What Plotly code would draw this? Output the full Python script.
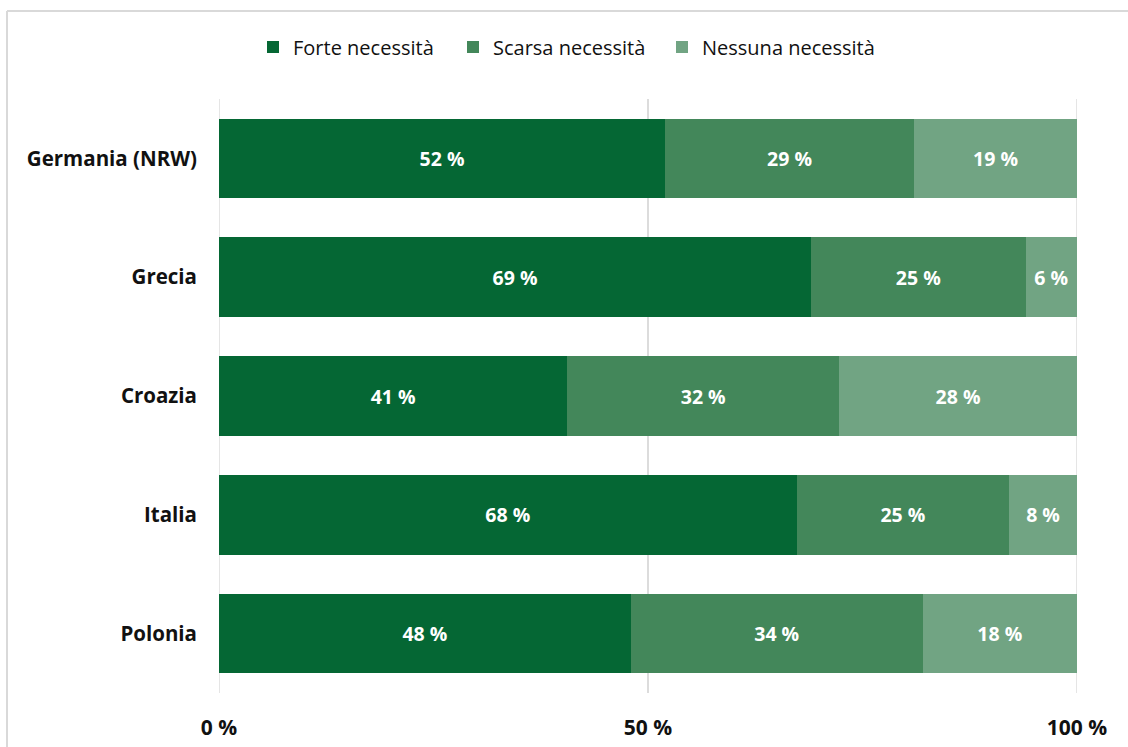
import plotly.graph_objects as go

# Survey shares per country (percent), stacked to 100 %
countries = ["Germania (NRW)", "Grecia", "Croazia", "Italia", "Polonia"]
forte = [52, 69, 41, 68, 48]
scarsa = [29, 25, 32, 25, 34]
nessuna = [19, 6, 28, 8, 18]

series_names = ["Forte necessità", "Scarsa necessità", "Nessuna necessità"]
series_values = [forte, scarsa, nessuna]
series_colors = ["#056734", "#43875A", "#71A483"]

x_ticks = [0, 50, 100]
x_tick_labels = ["0 %", "50 %", "100 %"]

FONT = "'Open Sans', 'Noto Sans', sans-serif"

W, H = 1128, 747
L, R, T, B = 219, 51, 99, 54
pw, ph = W - L - R, H - T - B

def px_x(p):
    return (p - L) / pw

def px_y(p):
    return (H - B - p) / ph

# each series gets its own legend box so the entries can be spaced freely
legend_ids = ["legend", "legend2", "legend3"]
legend_left_px = [253, 453, 662]

fig = go.Figure()
for name, vals, color, lid in zip(series_names, series_values, series_colors, legend_ids):
    fig.add_trace(go.Bar(
        y=countries,
        x=vals,
        name=name,
        orientation="h",
        legend=lid,
        showlegend=True,
        marker=dict(color=color, line=dict(width=0)),
        text=[f"{v} %" for v in vals],
        textposition="inside",
        insidetextanchor="middle",
        textangle=0,
        constraintext="none",
        textfont=dict(family=FONT, size=19.5, color="white", weight="bold"),
        hoverinfo="skip",
    ))

legend_layout = {
    lid: dict(
        orientation="h",
        x=px_x(lx), xanchor="left",
        y=px_y(47), yanchor="middle",
        font=dict(family=FONT, size=20, color="#111111"),
        itemwidth=30,
        bgcolor="rgba(0,0,0,0)",
        itemclick=False,
    )
    for lid, lx in zip(legend_ids, legend_left_px)
}

# gridlines at the range ends, which plotly leaves out
edge_lines = [dict(
    type="line", xref="x", yref="paper",
    x0=v, x1=v, y0=0, y1=1,
    line=dict(color="#dcdcdc", width=1.5),
    layer="below",
) for v in (x_ticks[0], x_ticks[-1])]

# outer frame: only its left and top edges fall inside the page
frame_color = "#d9d9d9"
frame = [
    dict(type="line", xref="paper", yref="paper",
         x0=px_x(7), x1=px_x(7), y0=px_y(11), y1=px_y(760),
         line=dict(color=frame_color, width=2), layer="below"),
    dict(type="line", xref="paper", yref="paper",
         x0=px_x(7), x1=px_x(1140), y0=px_y(11), y1=px_y(11),
         line=dict(color=frame_color, width=2), layer="below"),
]

fig.update_layout(
    width=W, height=H,
    margin=dict(l=L, r=R, t=T, b=B),
    paper_bgcolor="white",
    plot_bgcolor="white",
    showlegend=True,
    barmode="stack",
    barnorm="percent",
    bargap=0.33,
    font=dict(family=FONT, color="#111111"),
    xaxis=dict(
        range=[0, 100],
        tickvals=x_ticks,
        ticktext=x_tick_labels,
        showgrid=True,
        gridcolor="#dcdcdc",
        gridwidth=1.5,
        zeroline=False,
        showline=False,
        ticks="",
        ticklabelstandoff=20,
        tickfont=dict(family=FONT, size=21, color="#111111", weight="bold"),
        automargin=False,
        fixedrange=True,
    ),
    yaxis=dict(
        categoryorder="array",
        categoryarray=countries,
        autorange="reversed",
        showgrid=False,
        zeroline=False,
        showline=False,
        ticks="",
        ticklabelstandoff=21,
        tickfont=dict(family=FONT, size=20.5, color="#111111", weight="bold"),
        automargin=False,
        fixedrange=True,
    ),
    shapes=frame + edge_lines,
    **legend_layout,
)

fig.write_html("out.html")
